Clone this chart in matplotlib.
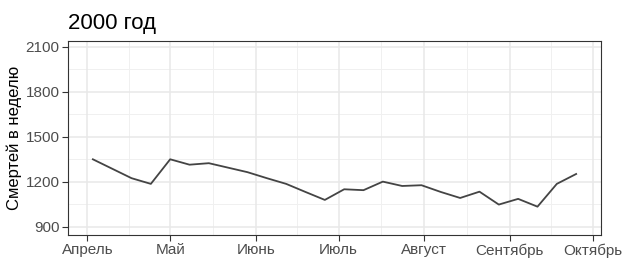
import matplotlib.pyplot as plt
import matplotlib.dates as mdates
import numpy as np
import pandas as pd

# Недельные данные, 2000 год
weeks = pd.date_range("2000-04-03", periods=26, freq="7D")
deaths = [1351, 1288, 1225, 1187, 1351, 1315, 1325, 1295, 1265, 1225,
          1187, 1133, 1080, 1151, 1145, 1202, 1173, 1178, 1133, 1093,
          1135, 1049, 1087, 1035, 1187, 1253]

month_ticks = pd.date_range("2000-04-01", "2000-10-01", freq="MS")
month_labels = ["Апрель", "Май", "Июнь", "Июль", "Август", "Сентябрь", "Октябрь"]
y_ticks = [900, 1200, 1500, 1800, 2100]

plt.rcParams['font.family'] = ['Liberation Sans', 'DejaVu Sans']

fig = plt.figure(figsize=(6.27, 2.6), dpi=100)
ax = fig.add_axes([68 / 627, 1 - 235 / 260, 533 / 627, 194 / 260])

# сетка в стиле theme_bw
minor_x = month_ticks[:-1] + (month_ticks[1:] - month_ticks[:-1]) / 2
for d in minor_x:
    ax.axvline(d, color="#F0F0F0", lw=0.7, zorder=0)
for v in [1050, 1350, 1650, 1950]:
    ax.axhline(v, color="#F0F0F0", lw=0.7, zorder=0)
for d in month_ticks:
    ax.axvline(d, color="#E8E8E8", lw=1.1, zorder=0)
for v in y_ticks:
    ax.axhline(v, color="#E8E8E8", lw=1.1, zorder=0)

ax.plot(weeks, deaths, color="#444444", lw=1.3, zorder=3)

ax.set_xlim(pd.Timestamp("2000-03-25"), pd.Timestamp("2000-10-04"))
ax.set_ylim(846, 2140)
ax.set_xticks(month_ticks)
ax.set_xticklabels(month_labels)
ax.set_yticks(y_ticks)

for s in ax.spines.values():
    s.set_color("#333333")
    s.set_linewidth(0.8)
ax.tick_params(colors="#333333", labelcolor="#4D4D4D", labelsize=11, length=4, width=0.8, pad=2)

ax.set_ylabel("Смертей в неделю", fontsize=12, color="black", labelpad=3)
ax.set_title("2000 год", loc="left", fontsize=16, pad=9)

fig.savefig("out.png", dpi=100)
